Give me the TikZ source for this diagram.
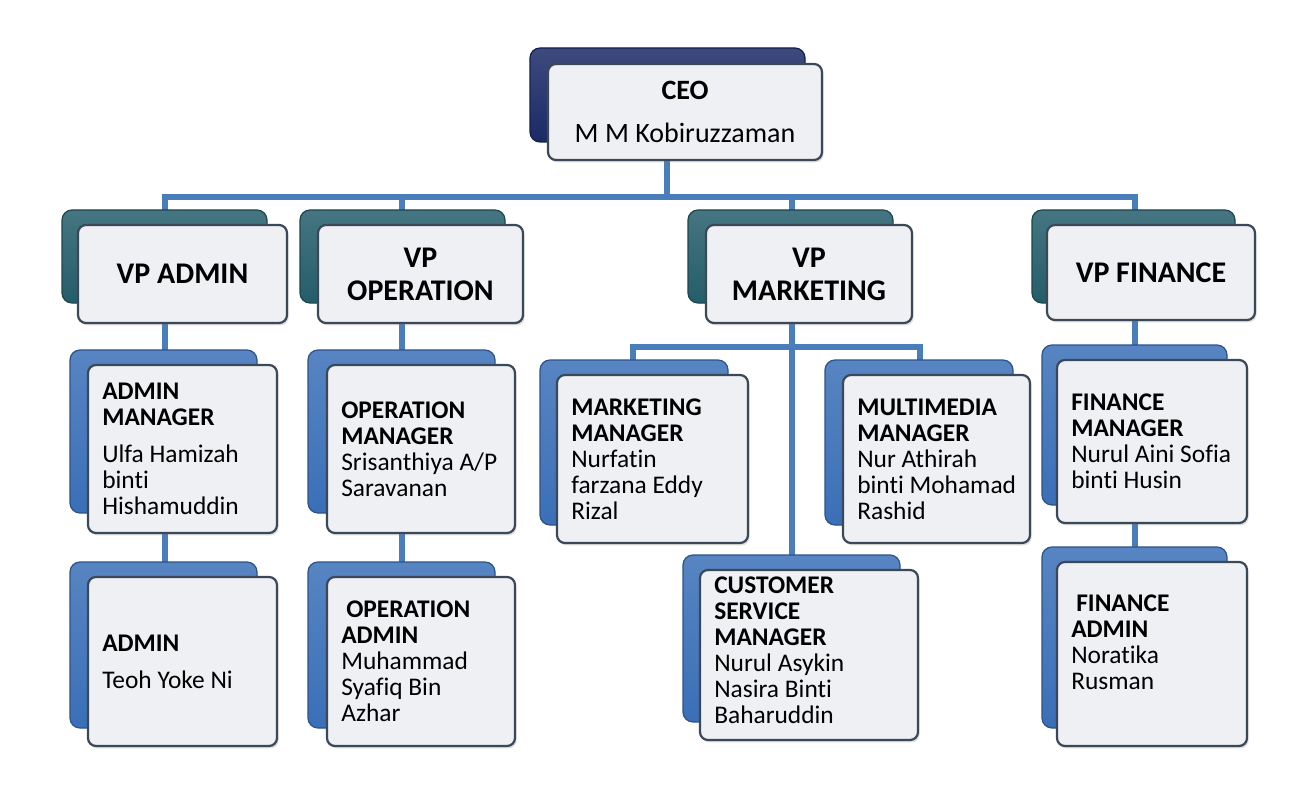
\documentclass[tikz,border=0pt]{standalone}
\usepackage{fontspec}
\setmainfont{Carlito}[Ligatures=NoCommon]
\usetikzlibrary{fit,backgrounds,shadows}
\definecolor{connc}{HTML}{4A7EBB}
\definecolor{ceoback}{HTML}{1A2A66}
\definecolor{vpback}{HTML}{245D6A}
\definecolor{mgrback}{HTML}{3A6FB7}
\definecolor{frontline}{HTML}{3B4858}
\definecolor{frontfill}{HTML}{EEF0F3}
\tikzset{
  backbox/.style={rounded corners=5pt, inner sep=0pt, draw=#1!75!black, line width=0.6pt,
    top color=#1!85!white, bottom color=#1},
  frontbox/.style={rounded corners=4pt, inner sep=0pt, draw=frontline, line width=1.1pt,
    fill=frontfill, drop shadow={opacity=0.25, shadow xshift=0.8pt, shadow yshift=-1.2pt}},
  conn/.style={draw=connc, line width=2.6pt, line cap=rect},
  ttl/.style={font=\fontsize{15}{16.5}\selectfont\bfseries, align=center, inner sep=0pt},
  ceot/.style={font=\fontsize{14}{14.5}\selectfont, align=center, inner sep=0pt},
  lbl/.style={font=\fontsize{12.7}{13}\selectfont, align=left, inner sep=0pt, anchor=west, xshift=7.5pt},
}
\begin{document}
\begin{tikzpicture}[x=0.5pt, y=-0.5pt]
\useasboundingbox (0,0) rectangle (1313,808);

% CEO
\node[backbox=ceoback, fit={(530,48)(805,142)}] (ceoB) {};
\node[frontbox, fit={(548,64)(822,160)}] (ceoF) {};
\node[ceot] (ceoT) at (ceoF.center) {\textbf{CEO}\\[7pt]M M Kobiruzzaman};

% VPs
\node[backbox=vpback, fit={(62,210)(267,303)}] (vpaB) {};
\node[frontbox, fit={(78,225)(287,323)}] (vpaF) {};
\node[ttl] (vpaT) at (vpaF.center) {VP ADMIN};

\node[backbox=vpback, fit={(300,210)(505,303)}] (vpoB) {};
\node[frontbox, fit={(318,225)(523,323)}] (vpoF) {};
\node[ttl] (vpoT) at (vpoF.center) {VP\\OPERATION};

\node[backbox=vpback, fit={(688,210)(893,303)}] (vpmB) {};
\node[frontbox, fit={(706,225)(912,323)}] (vpmF) {};
\node[ttl] (vpmT) at (vpmF.center) {VP\\MARKETING};

\node[backbox=vpback, fit={(1032,210)(1235,303)}] (vpfB) {};
\node[frontbox, fit={(1047,225)(1255,320)}] (vpfF) {};
\node[ttl] (vpfT) at (vpfF.center) {VP FINANCE};

% Admin column
\node[backbox=mgrback, fit={(70,350)(257,513)}] (amB) {};
\node[frontbox, fit={(88,365)(277,533)}] (amF) {};
\node[lbl] (amT) at (amF.west) {\textbf{ADMIN}\\\textbf{MANAGER}\\[5.5pt]Ulfa Hamizah\\binti\\Hishamuddin};

\node[backbox=mgrback, fit={(70,562)(257,728)}] (adB) {};
\node[frontbox, fit={(88,577)(277,746)}] (adF) {};
\node[lbl] (adT) at (adF.west) {\textbf{ADMIN}\\[5.5pt]Teoh Yoke Ni};

% Operation column
\node[backbox=mgrback, fit={(308,350)(495,513)}] (omB) {};
\node[frontbox, fit={(327,365)(515,533)}] (omF) {};
\node[lbl] (omT) at (omF.west) {\textbf{OPERATION}\\\textbf{MANAGER}\\Srisanthiya A/P\\Saravanan};

\node[backbox=mgrback, fit={(308,562)(495,728)}] (oaB) {};
\node[frontbox, fit={(327,577)(515,746)}] (oaF) {};
\node[lbl] (oaT) at (oaF.west) {\hspace*{2.5pt}\textbf{OPERATION}\\\textbf{ADMIN}\\Muhammad\\Syafiq Bin\\Azhar};

% Marketing column
\node[backbox=mgrback, fit={(540,360)(728,525)}] (mmB) {};
\node[frontbox, fit={(557,375)(748,543)}] (mmF) {};
\node[lbl] (mmT) at (mmF.west) {\textbf{MARKETING}\\\textbf{MANAGER}\\Nurfatin\\farzana Eddy\\Rizal};

\node[backbox=mgrback, fit={(825,360)(1013,525)}] (muB) {};
\node[frontbox, fit={(843,375)(1030,543)}] (muF) {};
\node[lbl] (muT) at (muF.west) {\textbf{MULTIMEDIA}\\\textbf{MANAGER}\\Nur Athirah\\binti Mohamad\\Rashid};

\node[backbox=mgrback, fit={(683,555)(900,722)}] (csB) {};
\node[frontbox, fit={(700,570)(918,740)}] (csF) {};
\node[lbl, yshift=2.5pt] (csT) at (csF.west) {\textbf{CUSTOMER}\\\textbf{SERVICE}\\\textbf{MANAGER}\\Nurul Asykin\\Nasira Binti\\Baharuddin};

% Finance column
\node[backbox=mgrback, fit={(1042,345)(1227,505)}] (fmB) {};
\node[frontbox, fit={(1057,360)(1247,523)}] (fmF) {};
\node[lbl] (fmT) at (fmF.west) {\textbf{FINANCE}\\\textbf{MANAGER}\\Nurul Aini Sofia\\binti Husin};

\node[backbox=mgrback, fit={(1042,547)(1227,728)}] (faB) {};
\node[frontbox, fit={(1057,562)(1247,746)}] (faF) {};
\node[lbl, yshift=6pt] (faT) at (faF.west) {\hspace*{2.5pt}\textbf{FINANCE}\\\textbf{ADMIN}\\Noratika\\Rusman};

% Connectors
\begin{pgfonlayer}{background}
\fill[white] (0,0) rectangle (1313,808);
\coordinate (jC) at (667,197);
\coordinate (jA) at (165,197);
\coordinate (jO) at (402,197);
\coordinate (jM) at (792,197);
\coordinate (jF) at (1135,197);
\coordinate (mL) at (633,347);
\coordinate (mR) at (920,347);
\draw[conn] (jC |- ceoF.south) -- (jC);
\draw[conn] (jA) -- (jF);
\draw[conn] (jA) -- (jA |- vpaB.north);
\draw[conn] (jO) -- (jO |- vpoB.north);
\draw[conn] (jM) -- (jM |- vpmB.north);
\draw[conn] (jF) -- (jF |- vpfB.north);
\draw[conn] (jA |- vpaF.south) -- (jA |- amB.north);
\draw[conn] (jA |- amF.south) -- (jA |- adB.north);
\draw[conn] (jO |- vpoF.south) -- (jO |- omB.north);
\draw[conn] (jO |- omF.south) -- (jO |- oaB.north);
\draw[conn] (jM |- vpmF.south) -- (jM |- csB.north);
\draw[conn] (mL |- mmB.north) -- (mL) -- (mR) -- (mR |- muB.north);
\draw[conn] (jF |- vpfF.south) -- (jF |- fmB.north);
\draw[conn] (jF |- fmF.south) -- (jF |- faB.north);
\end{pgfonlayer}
\end{tikzpicture}
\end{document}
